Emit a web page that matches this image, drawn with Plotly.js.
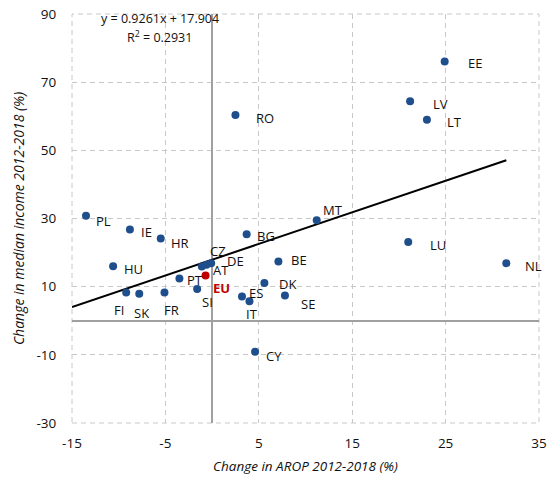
<!DOCTYPE html>
<html>
<head>
<meta charset="utf-8">
<script src="https://cdn.plot.ly/plotly-3.0.1.min.js"></script>
<style>html,body{margin:0;padding:0;background:#fff;}#chart{width:550px;height:480px;}</style>
</head>
<body>
<div id="chart"></div>
<script>
// Data (x = change in AROP 2012-2018 %, y = change in median income 2012-2018 %)
const countries = ["PL","IE","HR","HU","FI","SK","FR","PT","SI","AT","DE","CZ","BG","MT","BE","DK","ES","IT","SE","CY","RO","LV","LT","EE","LU","NL"];
const arop      = [-13.5,-8.8,-5.5,-10.6,-9.2,-7.8,-5.1,-3.5,-1.6,-1.1,-0.6,-0.1,3.7,11.2,7.1,5.6,3.2,4.0,7.8,4.6,2.5,21.2,23.0,24.9,21.0,31.5];
const income    = [30.8,26.8,24.1,16.0,8.3,7.9,8.3,12.4,9.3,15.9,16.4,16.9,25.4,29.5,17.4,11.1,7.1,5.7,7.4,-9.1,60.4,64.4,59.0,76.1,23.1,16.9];
const euLabel = ["EU"];
const euArop = [-0.7];
const euIncome = [13.3];
const trendSlope = [0.9261];
const trendIntercept = [17.904];
const rSquared = [0.2931];
const xTicks = [-15,-5,5,15,25,35];
const yTicks = [-30,-10,10,30,50,70,90];

// label offsets in pixels [dx, dy(down)] – presentation only
const labelOffsets = {
  PL:[17,5], IE:[17,3], HR:[19,4], HU:[20,3], FI:[-7,18], SK:[2,19], FR:[7,18], PT:[16,2],
  SI:[10,13], AT:[19,3], DE:[29,-4], CZ:[7,-12], BG:[19,2], MT:[16,-10], BE:[21,-1],
  DK:[23,1], ES:[14,-4], IT:[3,13], SE:[23,8], CY:[19,4], RO:[30,3], LV:[30,3], LT:[28,2],
  EE:[30,2], LU:[30,3], NL:[27,3], EU:[16,13]
};

const font = "'Open Sans', sans-serif";
const xMax = Math.max(...arop);
const trendX = [-15, xMax];
const trendY = trendX.map(v => trendSlope[0]*v + trendIntercept[0]);

const traces = [
  {x: trendX, y: trendY, mode: 'lines', line: {color: '#000', width: 2}, hoverinfo: 'skip'},
  {x: arop, y: income, text: countries, mode: 'markers', marker: {color: '#1f4e8c', size: 8}},
  {x: euArop, y: euIncome, text: euLabel, mode: 'markers', marker: {color: '#c00000', size: 8}}
];

const annotations = [];
countries.forEach((c, i) => {
  const o = labelOffsets[c];
  annotations.push({x: arop[i], y: income[i], text: c, showarrow: false, xshift: o[0], yshift: -o[1],
    font: {family: font, size: 13, color: '#111'}});
});
annotations.push({x: euArop[0], y: euIncome[0], text: '<b>' + euLabel[0] + '</b>', showarrow: false,
  xshift: labelOffsets.EU[0], yshift: -labelOffsets.EU[1], font: {family: font, size: 13, color: '#c00000'}});
annotations.push({xref: 'paper', yref: 'paper', x: 0.188, y: 0.988, xanchor: 'center', yanchor: 'middle',
  text: 'y = ' + trendSlope[0] + 'x + ' + trendIntercept[0], showarrow: false, font: {family: font, size: 12.5, color: '#111'}});
annotations.push({xref: 'paper', yref: 'paper', x: 0.188, y: 0.943, xanchor: 'center', yanchor: 'middle',
  text: 'R<sup>2</sup> = ' + rSquared[0], showarrow: false, font: {family: font, size: 12.5, color: '#111'}});

const gridStyle = {color: '#c8c8c8', width: 1, dash: '5px,4px'};

const layout = {
  width: 550, height: 480,
  margin: {l: 72, r: 11, t: 14, b: 57},
  paper_bgcolor: '#fff', plot_bgcolor: '#fff',
  showlegend: false,
  font: {family: font, size: 13, color: '#111'},
  xaxis: {
    range: [-15, 35], tickvals: xTicks, ticktext: xTicks.map(String),
    showgrid: true, gridcolor: '#c8c8c8', griddash: '5px,4px', gridwidth: 1,
    zeroline: true, zerolinecolor: '#a0a0a0', zerolinewidth: 1.5,
    showline: false, ticks: 'outside', ticklen: 8, tickcolor: 'rgba(0,0,0,0)',
    tickfont: {family: font, size: 13.5, color: '#111'},
    title: {text: 'Change in AROP 2012-2018 (%)', font: {family: font, size: 13.5, color: '#111', style: 'italic'}, standoff: 10}
  },
  yaxis: {
    range: [-30, 90], tickvals: yTicks, ticktext: yTicks.map(String),
    showgrid: true, gridcolor: '#c8c8c8', griddash: '5px,4px', gridwidth: 1,
    zeroline: true, zerolinecolor: '#a0a0a0', zerolinewidth: 1.5,
    showline: false, ticks: 'outside', ticklen: 12, tickcolor: 'rgba(0,0,0,0)',
    tickfont: {family: font, size: 13.5, color: '#111'},
    title: {text: 'Change in median income 2012-2018 (%)', font: {family: font, size: 14, color: '#111', style: 'italic'}, standoff: 8}
  },
  shapes: [
    {type: 'rect', xref: 'paper', yref: 'paper', x0: 0, x1: 1, y0: 0, y1: 1, line: gridStyle, layer: 'below'}
  ],
  annotations: annotations
};

Plotly.newPlot('chart', traces, layout, {displayModeBar: false, staticPlot: true});
</script>
</body>
</html>
